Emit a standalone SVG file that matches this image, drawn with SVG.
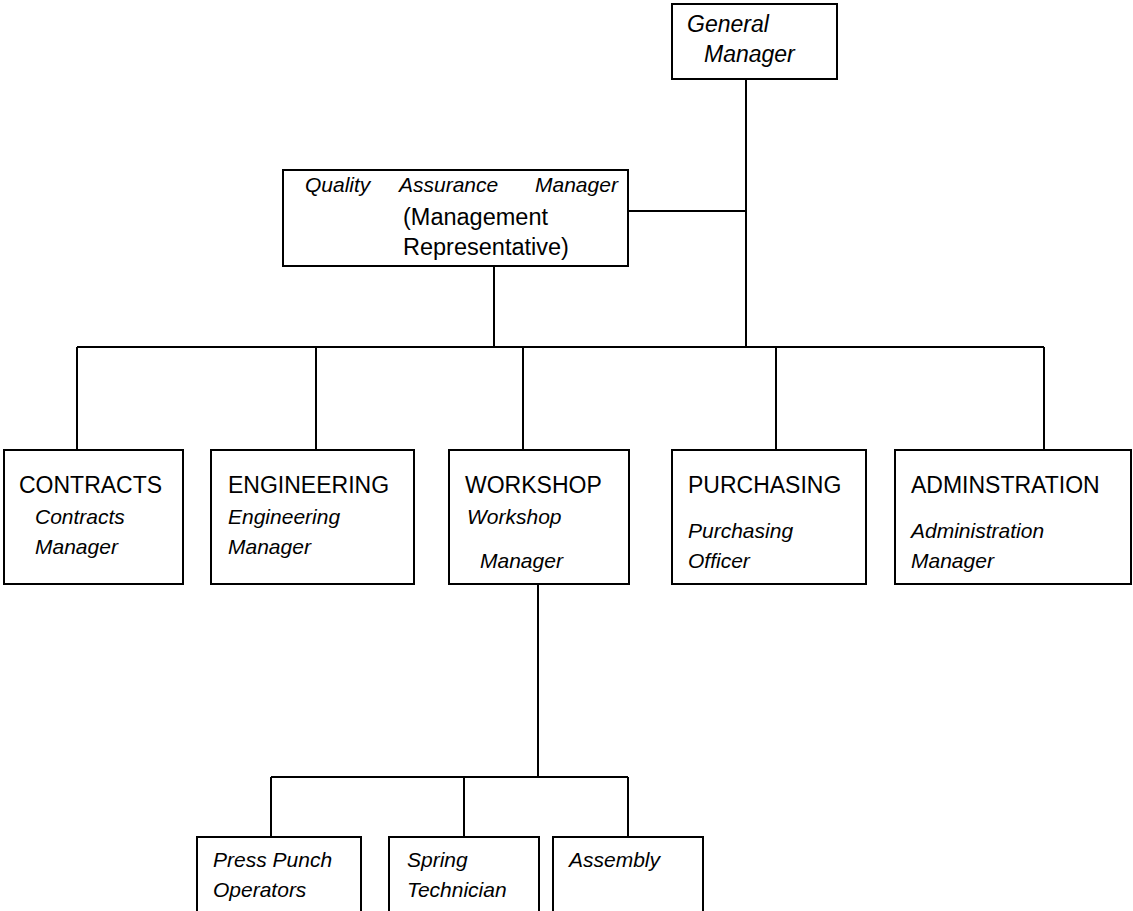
<svg xmlns="http://www.w3.org/2000/svg" width="1133" height="911" viewBox="0 0 1133 911">
<style>
.box{fill:#fff;stroke:#000;stroke-width:2}
.ln{fill:none;stroke:#000;stroke-width:2}
text{font-family:"Liberation Sans",Arial,sans-serif;fill:#000}
.cap{font-size:23px}
.it{font-size:21px;font-style:italic}
.itl{font-size:23px;font-style:italic}
.up{font-size:23.5px}
</style>
<rect width="1133" height="911" fill="#fff"/>
<g id="connectors">
<path class="ln" d="M746 79V347M628 211H746M494 266V347M77 347H1044M77 347V450M316 347V450M523 347V450M776 347V450M1044 347V450M538 584V777M271 777H628M271 777V837M464 777V837M628 777V837"/>
</g>
<g id="gm">
<rect class="box" x="672" y="4" width="165" height="75"/>
<text class="itl" x="687" y="32">General</text>
<text class="itl" x="704" y="62">Manager</text>
</g>
<g id="qa">
<rect class="box" x="283" y="170" width="345" height="96"/>
<text class="it" x="305" y="192" font-size="22">Quality</text>
<text class="it" x="399" y="192" font-size="22">Assurance</text>
<text class="it" x="535" y="192" font-size="21.5">Manager</text>
<text class="up" x="403" y="225">(Management</text>
<text class="up" x="403" y="255">Representative)</text>
</g>
<g id="contracts">
<rect class="box" x="4" y="450" width="179" height="134"/>
<text class="cap" x="19" y="493">CONTRACTS</text>
<text class="it" x="35" y="524">Contracts</text>
<text class="it" x="35" y="554">Manager</text>
</g>
<g id="engineering">
<rect class="box" x="211" y="450" width="203" height="134"/>
<text class="cap" x="228" y="493">ENGINEERING</text>
<text class="it" x="228" y="524">Engineering</text>
<text class="it" x="228" y="554">Manager</text>
</g>
<g id="workshop">
<rect class="box" x="449" y="450" width="180" height="134"/>
<text class="cap" x="465" y="493">WORKSHOP</text>
<text class="it" x="467" y="524">Workshop</text>
<text class="it" x="480" y="568">Manager</text>
</g>
<g id="purchasing">
<rect class="box" x="672" y="450" width="194" height="134"/>
<text class="cap" x="688" y="493">PURCHASING</text>
<text class="it" x="688" y="538">Purchasing</text>
<text class="it" x="688" y="568">Officer</text>
</g>
<g id="administration">
<rect class="box" x="895" y="450" width="236" height="134"/>
<text class="cap" x="911" y="493">ADMINSTRATION</text>
<text class="it" x="911" y="538">Administration</text>
<text class="it" x="911" y="568">Manager</text>
</g>
<g id="press">
<rect class="box" x="197" y="837" width="164" height="80"/>
<text class="it" x="213" y="867">Press Punch</text>
<text class="it" x="213" y="897">Operators</text>
</g>
<g id="spring">
<rect class="box" x="389" y="837" width="150" height="80"/>
<text class="it" x="407" y="867">Spring</text>
<text class="it" x="407" y="897">Technician</text>
</g>
<g id="assembly">
<rect class="box" x="553" y="837" width="150" height="80"/>
<text class="it" x="569" y="867">Assembly</text>
</g>
</svg>
